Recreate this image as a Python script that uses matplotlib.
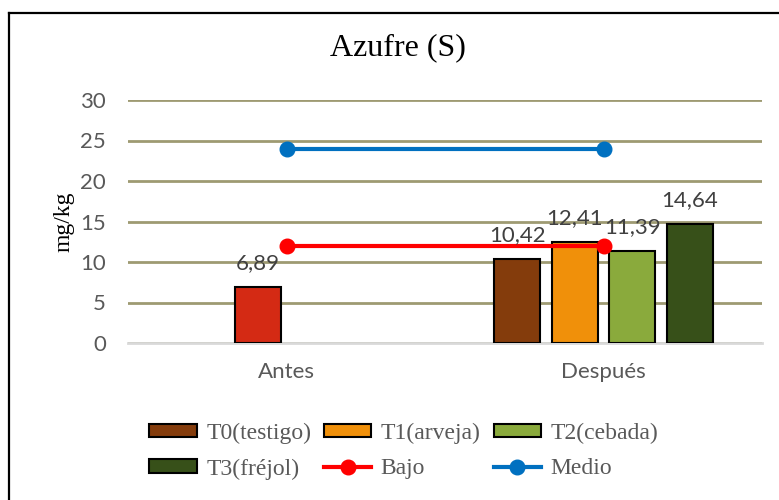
import numpy as np
import matplotlib
matplotlib.use('Agg')
import matplotlib.pyplot as plt
from matplotlib.lines import Line2D

categorias = ['Antes', 'Después']
series = ['T0(testigo)', 'T1(arveja)', 'T2(cebada)', 'T3(fréjol)']
t0 = [np.nan, 10.42]
t1 = [6.89, 12.41]
t2 = [np.nan, 11.39]
t3 = [np.nan, 14.64]
bajo = [12, 12]
medio = [24, 24]

colores = ['#843C0C', '#F0900A', '#8AAA3C', '#375019']
color_antes = '#D42A14'
gris = '#595959'

fig = plt.figure(figsize=(7.79, 5.0), dpi=100)
ax = fig.add_axes([128 / 779, 157 / 500, 634 / 779, 243 / 500])

x = np.arange(len(categorias))
ancho = 0.145
paso = 0.181
handles = {}
for i, (nombre, vals) in enumerate(zip(series, [t0, t1, t2, t3])):
    cols = [colores[i]] * len(vals)
    if i == 1:
        cols[0] = color_antes
    bars = ax.bar(x + (i - 1.5) * paso, vals, ancho, color=cols,
                  edgecolor='black', linewidth=1.5, zorder=3)
    handles[nombre] = plt.Rectangle((0, 0), 1, 1, facecolor=colores[i],
                                    edgecolor='black', linewidth=1.5)
    for xi, v in zip(x + (i - 1.5) * paso, vals):
        if not np.isnan(v):
            ax.annotate(f'{v:.2f}'.replace('.', ','), (xi, v),
                        xytext=(0, 10), textcoords='offset points',
                        ha='center', va='bottom', fontsize=16,
                        family='Lato', color='#404040', zorder=5)

l_bajo, = ax.plot(x, bajo, color='#FF0000', lw=3, marker='o', ms=10.5,
                  zorder=4, label='Bajo')
l_medio, = ax.plot(x, medio, color='#0070C0', lw=3, marker='o', ms=10.5,
                   zorder=4, label='Medio')

ax.set_xlim(-0.5, 1.5)
ax.set_ylim(0, 30)
ax.set_yticks(range(0, 31, 5))
ax.set_xticks(x)
ax.set_xticklabels(categorias)
ax.yaxis.grid(True, color='#9E9A72', linewidth=2, zorder=0)
ax.set_axisbelow(True)
for s in ['top', 'right', 'left']:
    ax.spines[s].set_visible(False)
ax.spines['bottom'].set_color('#D9D9D9')
ax.spines['bottom'].set_linewidth(2)
ax.spines['bottom'].set_zorder(2)
ax.tick_params(length=0, labelsize=16, labelcolor=gris)
ax.tick_params(axis='y', pad=16)
ax.tick_params(axis='x', pad=14)
for lab in ax.get_xticklabels() + ax.get_yticklabels():
    lab.set_family('Lato')

ax.set_ylabel('mg/kg', fontsize=17, family='Liberation Serif', labelpad=4)
fig.text(398 / 779, 1 - 48 / 500, 'Azufre (S)', ha='center', va='center',
         fontsize=23, family='Liberation Serif')

orden = [handles['T0(testigo)'], handles['T3(fréjol)'], handles['T1(arveja)'],
         l_bajo, handles['T2(cebada)'], l_medio]
etiquetas = ['T0(testigo)', 'T3(fréjol)', 'T1(arveja)', 'Bajo',
             'T2(cebada)', 'Medio']
leg = ax.legend(orden, etiquetas, ncol=3, loc='upper center',
                bbox_to_anchor=(0.435, -0.24), frameon=False,
                prop={'family': 'Liberation Serif', 'size': 17},
                handlelength=2.0, handleheight=0.5, handletextpad=0.4,
                columnspacing=0.55, labelspacing=0.62)
for t in leg.get_texts():
    t.set_color(gris)

# chart frame (left and top edges visible)
fig.add_artist(Line2D([9 / 779, 9 / 779], [0, 1 - 13 / 500],
                      transform=fig.transFigure, color='black', lw=1.6))
fig.add_artist(Line2D([9 / 779, 1], [1 - 13 / 500, 1 - 13 / 500],
                      transform=fig.transFigure, color='black', lw=1.6))

fig.savefig('out.png', dpi=100)
